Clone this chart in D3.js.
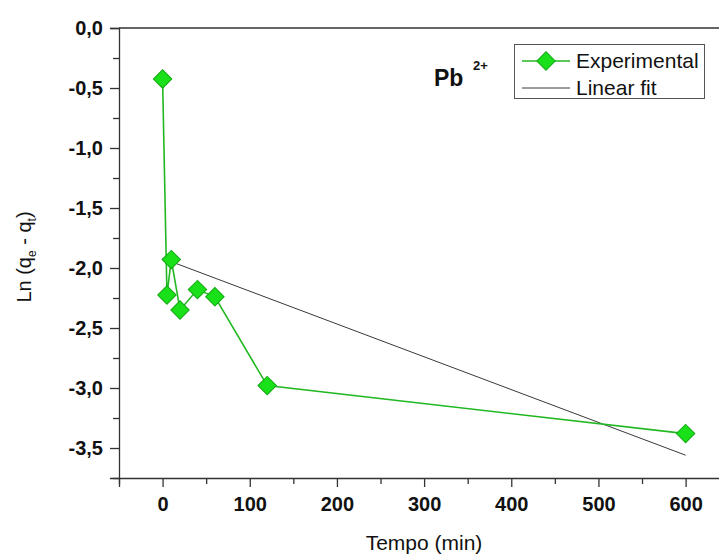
<!DOCTYPE html>
<html><head><meta charset="utf-8">
<script src="https://cdn.jsdelivr.net/npm/d3@7"></script>
<style>body{margin:0;background:#fff}svg{display:block}text{font-family:"Liberation Sans",Arial,sans-serif}</style>
</head><body>
<svg id="c" width="719" height="555"></svg>
<script>
const timeMin = [0, 5, 10, 20, 40, 60, 120, 600];
const lnQ = [-0.425, -2.225, -1.93, -2.35, -2.18, -2.24, -2.98, -3.38];
const fitX = [0, 600];
const fitY = [-1.92, -3.56];
const xTicks = [0, 100, 200, 300, 400, 500, 600];
const yTicks = [0, -0.5, -1, -1.5, -2, -2.5, -3, -3.5];
const seriesNames = ["Experimental", "Linear fit"];

const svg = d3.select("#c");
const x = d3.scaleLinear().domain([-50, 650]).range([119, 729.2]);
const y = d3.scaleLinear().domain([-3.75, 0]).range([478, 28]);
const fmt = d => d3.format(".1f")(d).replace(".", ",").replace("−", "-");

// top frame line
svg.append("line").attr("x1", 119).attr("x2", 719).attr("y1", y(0)).attr("y2", y(0))
  .attr("stroke", "#333").attr("stroke-width", 1.3);

// x axis
const xAx = svg.append("g").attr("transform", `translate(0,${y(-3.75)})`)
  .call(d3.axisBottom(x).tickValues(xTicks).tickSize(9).tickPadding(10).tickFormat(d3.format("d")));
svg.append("g").attr("transform", `translate(0,${y(-3.75)})`)
  .call(d3.axisBottom(x).tickValues(d3.range(-50, 651, 50).filter(v => v % 100 !== 0)).tickSize(6).tickFormat(""))
  .select(".domain").remove();
// y axis
const yAx = svg.append("g").attr("transform", `translate(${x(-50)},0)`)
  .call(d3.axisLeft(y).tickValues(yTicks).tickSize(9).tickPadding(7).tickFormat(fmt));
svg.append("g").attr("transform", `translate(${x(-50)},0)`)
  .call(d3.axisLeft(y).tickValues(d3.range(-0.25, -3.8, -0.5)).tickSize(6).tickFormat(""))
  .select(".domain").remove();
svg.selectAll(".domain").attr("stroke", "#333").attr("stroke-width", 1.3);
svg.selectAll(".tick line").attr("stroke", "#333").attr("stroke-width", 1.3);
xAx.selectAll(".tick text").attr("font-size", 20).attr("font-weight", "bold").attr("fill", "#111");
yAx.selectAll(".tick text").attr("font-size", 20).attr("font-weight", "bold").attr("fill", "#111");

// axis titles
svg.append("text").attr("x", 424).attr("y", 550).attr("text-anchor", "middle")
  .attr("font-size", 21).attr("fill", "#111").text("Tempo (min)");
const yt = svg.append("text").attr("transform", "translate(31,257) rotate(-90)")
  .attr("text-anchor", "middle").attr("font-size", 20).attr("fill", "#111");
yt.append("tspan").text("Ln (q");
yt.append("tspan").attr("font-size", 12).attr("dy", 5).text("e");
yt.append("tspan").attr("dy", -5).text(" - q");
yt.append("tspan").attr("font-size", 12).attr("dy", 5).text("t");
yt.append("tspan").attr("dy", -5).text(")");

// fit line
svg.append("path").datum(fitX.map((d, i) => [d, fitY[i]]))
  .attr("d", d3.line().x(d => x(d[0])).y(d => y(d[1])))
  .attr("fill", "none").attr("stroke", "#222").attr("stroke-width", 0.9);

// experimental
const pts = timeMin.map((d, i) => [d, lnQ[i]]);
svg.append("path").datum(pts)
  .attr("d", d3.line().x(d => x(d[0])).y(d => y(d[1])))
  .attr("fill", "none").attr("stroke", "#22b822").attr("stroke-width", 1.6);
const diamond = d3.symbol().type(d3.symbolSquare).size(170);
svg.selectAll(".pt").data(pts).enter().append("path")
  .attr("transform", d => `translate(${x(d[0])},${y(d[1])}) rotate(45)`)
  .attr("d", diamond).attr("fill", "#19e019").attr("stroke", "#14a814").attr("stroke-width", 1);

// Pb label
svg.append("text").attr("x", 434).attr("y", 86).attr("font-size", 23).attr("font-weight", "bold").attr("fill", "#111").text("Pb");
svg.append("text").attr("x", 473).attr("y", 70).attr("font-size", 13).attr("font-weight", "bold").attr("fill", "#111").text("2+");

// legend
const lg = svg.append("g");
lg.append("rect").attr("x", 514.5).attr("y", 44.5).attr("width", 190).attr("height", 54)
  .attr("fill", "#fff").attr("stroke", "#555").attr("stroke-width", 1);
lg.append("line").attr("x1", 522).attr("x2", 570).attr("y1", 61).attr("y2", 61).attr("stroke", "#22b822").attr("stroke-width", 1.6);
lg.append("path").attr("transform", "translate(546,61) rotate(45)").attr("d", diamond)
  .attr("fill", "#19e019").attr("stroke", "#14a814");
lg.append("line").attr("x1", 522).attr("x2", 570).attr("y1", 88).attr("y2", 88).attr("stroke", "#222").attr("stroke-width", 0.9);
lg.selectAll(".lt").data(seriesNames).enter().append("text")
  .attr("x", 576).attr("y", (d, i) => 68 + i * 27).attr("font-size", 21).attr("fill", "#111").text(d => d);
</script>
</body></html>
